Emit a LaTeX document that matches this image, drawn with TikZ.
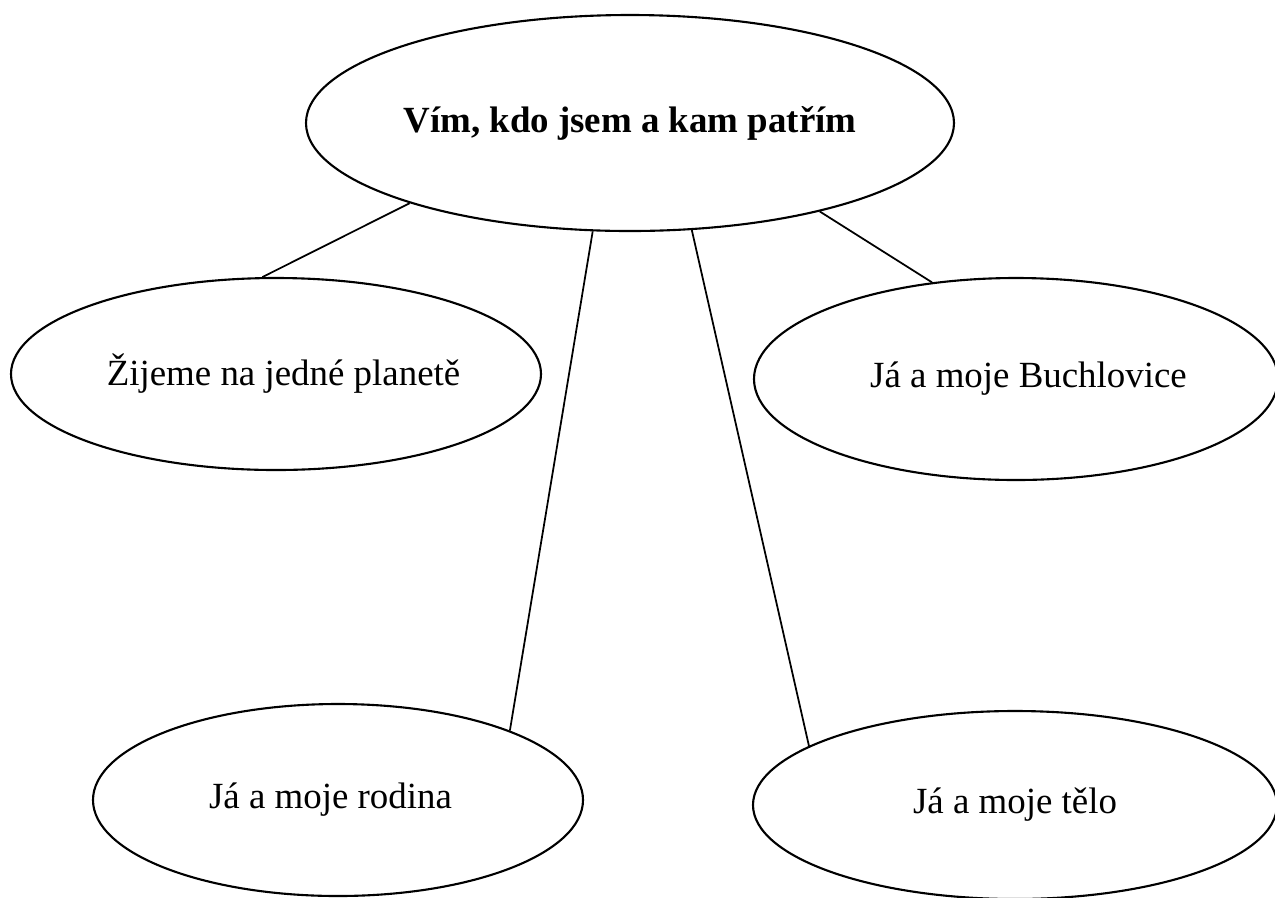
\documentclass[tikz,border=0pt]{standalone}
\usepackage{fontspec}
\setmainfont{Liberation Serif}
\usetikzlibrary{shapes.geometric}

\begin{document}
\begin{tikzpicture}[x=0.02cm, y=-0.02cm,
        bubble/.style={draw, ellipse, line width=1.2pt, inner sep=0pt,
            font=\fontsize{21}{25}\selectfont},
        link/.style={line width=1pt}]

            \useasboundingbox (0,0) rectangle (1275,897);

            % main topic
            \node[bubble, minimum width=648*0.02cm, minimum height=216*0.02cm] (main) at (630,123) {\textbf{Vím, kdo jsem a kam patřím}};

            % sub topics
            \node[bubble, minimum width=530*0.02cm, minimum height=192*0.02cm] (planeta) at (276,374) {\hspace*{0.3cm}Žijeme na jedné planetě};
            \node[bubble, minimum width=524*0.02cm, minimum height=202*0.02cm] (buchlovice) at (1016,379) {\hspace*{0.5cm}Já a moje Buchlovice};
            \node[bubble, minimum width=490*0.02cm, minimum height=192*0.02cm] (rodina) at (338,800) {Já a moje rodina\hspace*{0.3cm}};
            \node[bubble, minimum width=524*0.02cm, minimum height=188*0.02cm] (telo) at (1015,805) {Já a moje tělo};

            \draw[link] (main.200.8) -- (planeta.98);
            \draw[link] (main.251.9) -- (rodina.22.1);
            \draw[link] (main.300.5) -- (telo.164);
            \draw[link] (main.335.1) -- (buchlovice.131);

\end{tikzpicture}
\end{document}
